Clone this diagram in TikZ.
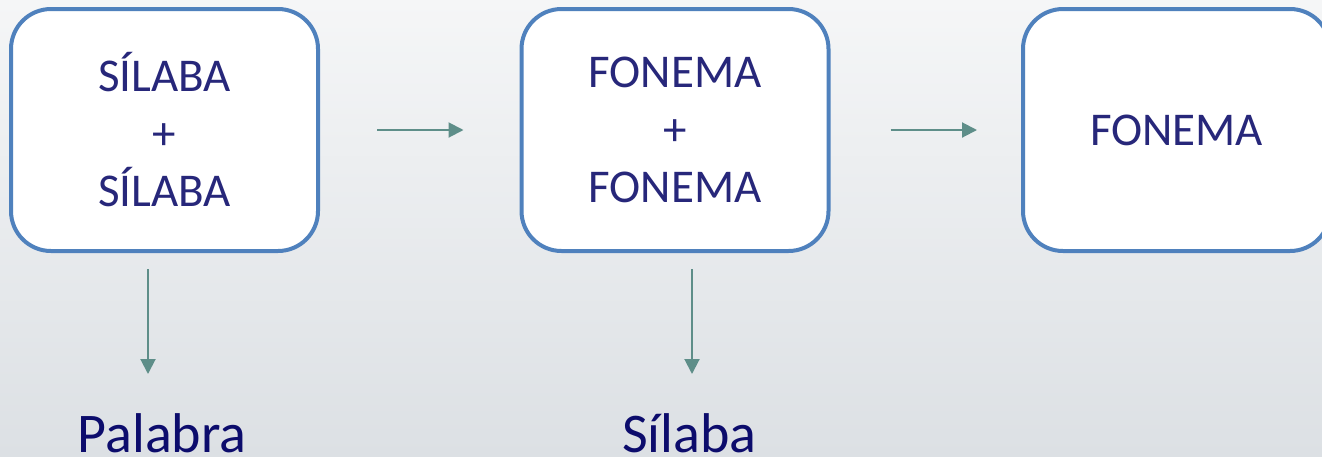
\documentclass[tikz,border=0pt]{standalone}
\usepackage{fontspec}
\setmainfont{Carlito}
\usetikzlibrary{arrows.meta}
\usetikzlibrary{positioning}
\definecolor{boxblue}{HTML}{4F81BD}
\definecolor{linkteal}{HTML}{5E8E89}
\definecolor{boxtext}{HTML}{27277A}
\definecolor{labeltext}{HTML}{0C0C6C}
\definecolor{bgtop}{HTML}{F5F6F7}
\definecolor{bgbottom}{HTML}{DCE0E4}
\tikzset{
	unitbox/.style={draw=boxblue, line width=4pt, fill=white, rounded corners=40pt,
		minimum width=307pt, minimum height=242pt, align=center, text=boxtext,
		font=\fontsize{47}{57.5}\selectfont},
	result/.style={text=labeltext, inner sep=0pt, anchor=base, font=\fontsize{56}{60}\selectfont},
	link/.style={-{Triangle[width=15pt,length=15pt]}, draw=linkteal, line width=2pt}
}

\begin{document}
\begin{tikzpicture}[x=1pt,y=-1pt]

\useasboundingbox (0,0) rectangle (1322,456);
\clip (0,0) rectangle (1322,456);
\shade[top color=bgtop, bottom color=bgbottom] (0,0) rectangle (1322,456);

\node[unitbox] (syl) at (164.5,130) {SÍLABA\\+\\SÍLABA};
\node[unitbox] (pho) at (675,130) {FONEMA\\+\\FONEMA};
\node[unitbox] (one) at (1176.5,130) {FONEMA};

\node[result] (word) at (162,452) {Palabra};
\node[result] (syllable) at (689.5,452) {Sílaba};

\draw[link] ([xshift=57pt]syl.east) -- ([xshift=-56pt]pho.west);
\draw[link] ([xshift=60pt]pho.east) -- ([xshift=-44pt]one.west);

\draw[link] ([xshift=-16.5pt,yshift=-16pt]syl.south) -- ([xshift=-16.5pt,yshift=-121pt]syl.south);
\draw[link] ([xshift=17pt,yshift=-16pt]pho.south) -- ([xshift=17pt,yshift=-121pt]pho.south);

\end{tikzpicture}
\end{document}
